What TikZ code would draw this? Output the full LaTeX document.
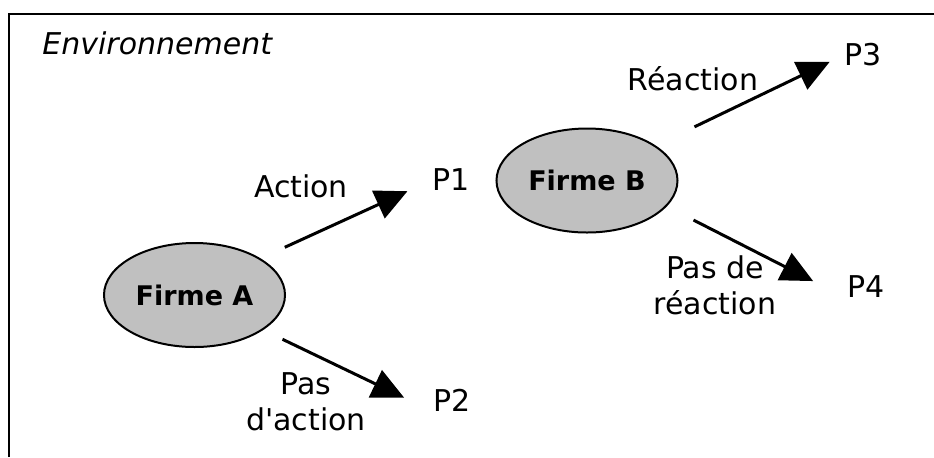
\documentclass[tikz,border=0pt]{standalone}
\usepackage[rgb]{xcolor}
\usepackage{fontspec}
\setmainfont{DejaVu Sans}
\usepackage{tikz}
\usetikzlibrary{arrows.meta}
\usetikzlibrary{shapes.geometric}
\usetikzlibrary{math}
\definecolor{firm-gray}{HTML}{c0c0c0}

\begin{document}
\begin{tikzpicture}[
    x=0.5pt, y=-0.5pt,
    firm/.style={ellipse, draw=black, line width=1pt, fill=firm-gray, inner sep=0pt,
        minimum width=90.5pt, minimum height=52pt,
        font=\fontsize{13.5}{16}\selectfont\bfseries},
    outcome/.style={inner sep=0pt, font=\fontsize{15}{18}\selectfont},
    choice/.style={outcome, align=center},
    move/.style={line width=1.5pt, -{Triangle[length=16pt,width=15pt]}},
]

% Position settings
\tikzmath{
    % Firm coordinates
    \xfirmA = 194.5;
    \yfirmA = 295;
    \xfirmB = 587;
    \yfirmB = 180.5;
}

% Frame, cut off at the right and at the bottom
\useasboundingbox (0,0) rectangle (934,457);
\draw[line width=1.2pt] (9,457) -- (9,14) -- (934,14);
\node[outcome, anchor=base west] (env) at (42,54) {\itshape Environnement};

% Draws the two firms
\node[firm] (firmA) at (\xfirmA,\yfirmA) {Firme A};
\node[firm] (firmB) at (\xfirmB,\yfirmB) {Firme B};

% Draws the outcomes
\node[outcome] (p1) at (451,180) {P1};
\node[outcome] (p2) at (452,400) {P2};
\node[outcome] (p3) at (863,55) {P3};
\node[outcome] (p4) at (866,287) {P4};

% First firm moves
\draw[move, shorten <=13.3pt, shorten >=13.5pt] (firmA.29) -- (p1.west);
\draw[move, shorten <=10.7pt, shorten >=16pt] (firmA.-27) -- (p2.south west);
\node[choice] (action) at (301,186) {Action};
\node[choice] (noaction) at (306,402) {Pas\\d\textquotesingle action};

% Second firm moves
\draw[move, shorten <=21.5pt, shorten >=8pt] (firmB.27) -- (p3.west);
\draw[move, shorten <=15pt, shorten >=19pt] (firmB.-18) -- (p4.south west);
\node[choice] (reaction) at (693,78.5) {Réaction};
\node[choice] (noreaction) at (715,285.5) {Pas de\\réaction};

\end{tikzpicture}
\end{document}
